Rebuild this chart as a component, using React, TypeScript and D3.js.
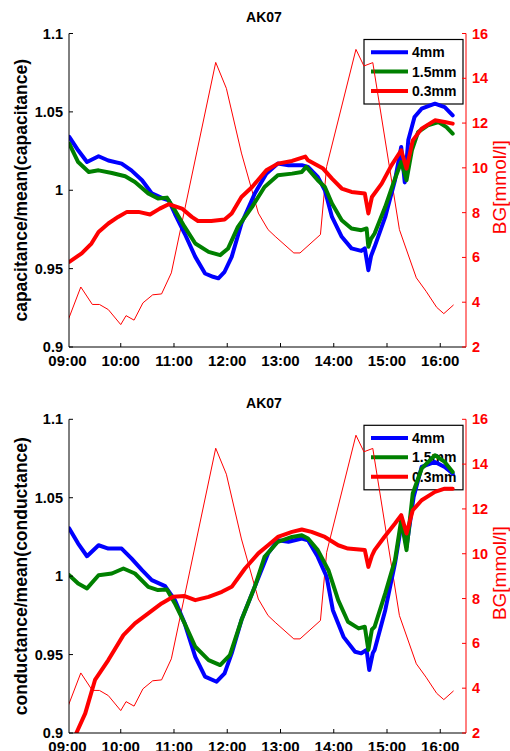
import React from 'react';
import * as d3 from 'd3';

// time axis: minutes after 09:00
const timeTicks = [0, 60, 120, 180, 240, 300, 360, 420];
const timeLabels = ['09:00', '10:00', '11:00', '12:00', '13:00', '14:00', '15:00', '16:00'];
const leftTicks = [0.9, 0.95, 1, 1.05, 1.1];
const leftTickLabels = ['0.9', '0.95', '1', '1.05', '1.1'];
const rightTicks = [2, 4, 6, 8, 10, 12, 14, 16];
const seriesNames = ['4mm', '1.5mm', '0.3mm'];
const seriesColors = ['#0000ff', '#008000', '#ff0000'];

// blood glucose (same in both panels)
const bgMin = [1, 15, 28, 36, 46, 60, 66, 75, 85, 96, 106, 117, 167, 179, 196, 215, 226, 234, 255, 262, 285, 292, 325, 334, 344, 374, 393, 404, 416, 424, 435];
const bgValue = [3.23, 4.68, 3.9, 3.9, 3.67, 3.0, 3.4, 3.2, 3.97, 4.33, 4.37, 5.31, 14.71, 13.55, 10.66, 7.98, 7.24, 6.94, 6.2, 6.2, 7.02, 10.06, 15.29, 14.55, 14.7, 7.24, 5.09, 4.49, 3.77, 3.49, 3.88];

// capacitance / mean(capacitance)
const capBlueMin = [2, 12, 22, 35, 46, 61, 72, 84, 95, 108, 114, 121, 132, 144, 155, 164, 170, 177, 185, 196, 211, 224, 237, 249, 264, 271, 282, 290, 298, 309, 320, 331, 335, 339, 342, 346, 358, 369, 376, 380, 384, 391, 399, 414, 425, 434];
const capBlueVal = [1.034, 1.0255, 1.018, 1.0217, 1.019, 1.017, 1.0127, 1.0064, 0.998, 0.9947, 0.9936, 0.985, 0.9724, 0.9575, 0.9469, 0.9448, 0.9438, 0.948, 0.9575, 0.9788, 0.9979, 1.0106, 1.017, 1.016, 1.016, 1.0149, 1.0085, 1.0, 0.983, 0.9703, 0.9629, 0.9613, 0.9629, 0.949, 0.958, 0.9639, 0.983, 1.0064, 1.0276, 1.005, 1.032, 1.0467, 1.052, 1.0552, 1.053, 1.0478];
const capGreenMin = [2, 12, 24, 35, 50, 65, 76, 91, 102, 112, 121, 132, 144, 159, 172, 181, 192, 208, 222, 237, 253, 264, 269, 282, 290, 298, 309, 320, 331, 337, 339, 342, 346, 358, 367, 376, 382, 388, 395, 406, 418, 427, 434];
const capGreenVal = [1.0297, 1.018, 1.0117, 1.0127, 1.011, 1.0089, 1.0053, 0.998, 0.9947, 0.9953, 0.9873, 0.9766, 0.966, 0.9607, 0.9586, 0.9629, 0.9766, 0.9894, 1.0021, 1.0096, 1.0106, 1.0117, 1.0149, 1.0064, 1.0021, 0.9915, 0.9809, 0.9756, 0.9745, 0.9756, 0.9639, 0.969, 0.9724, 0.9894, 1.0042, 1.018, 1.0064, 1.0255, 1.0371, 1.0414, 1.0435, 1.0403, 1.0361];
const capRedMin = [2, 16, 27, 35, 46, 57, 67, 80, 93, 104, 114, 129, 140, 147, 162, 177, 185, 196, 208, 224, 237, 253, 268, 271, 288, 298, 309, 320, 335, 339, 343, 354, 365, 376, 382, 389, 399, 414, 425, 434];
const capRedVal = [0.9543, 0.9597, 0.966, 0.9734, 0.9788, 0.983, 0.9862, 0.9862, 0.9845, 0.9883, 0.9911, 0.9883, 0.983, 0.9804, 0.9804, 0.9813, 0.9852, 0.9957, 1.0021, 1.0127, 1.017, 1.0187, 1.0215, 1.0191, 1.0138, 1.0074, 1.0011, 0.9989, 0.9979, 0.9852, 0.9957, 1.0042, 1.0159, 1.0255, 1.0138, 1.0318, 1.0393, 1.0446, 1.0435, 1.0425];

// conductance / mean(conductance)
const conBlueMin = [2, 12, 22, 35, 46, 61, 72, 84, 95, 110, 121, 132, 144, 155, 168, 177, 185, 196, 211, 226, 237, 249, 264, 271, 282, 292, 299, 311, 324, 331, 337, 340, 344, 346, 358, 369, 377, 382, 390, 399, 414, 425, 434];
const conBlueVal = [1.0304, 1.0208, 1.0127, 1.0197, 1.0176, 1.0176, 1.0113, 1.0038, 0.9975, 0.9936, 0.9847, 0.9699, 0.9486, 0.9359, 0.9327, 0.938, 0.9508, 0.972, 0.9932, 1.0145, 1.0229, 1.0219, 1.024, 1.0229, 1.0123, 0.9996, 0.9783, 0.9613, 0.9518, 0.9508, 0.9529, 0.9401, 0.951, 0.9529, 0.9783, 1.0081, 1.0357, 1.0187, 1.0505, 1.0696, 1.0728, 1.0696, 1.0654];
const conGreenMin = [2, 12, 22, 35, 50, 63, 76, 91, 102, 112, 121, 132, 144, 159, 172, 183, 196, 211, 222, 237, 253, 264, 271, 282, 294, 305, 316, 328, 335, 339, 343, 346, 358, 369, 376, 382, 389, 399, 414, 425, 434];
const conGreenVal = [1.0006, 0.9953, 0.9922, 1.0006, 1.0017, 1.0049, 1.0017, 0.9932, 0.9911, 0.9915, 0.9826, 0.9699, 0.955, 0.9465, 0.9433, 0.9497, 0.972, 0.9932, 1.0123, 1.0219, 1.025, 1.0261, 1.024, 1.0166, 1.0038, 0.9847, 0.9709, 0.9667, 0.9677, 0.9529, 0.966, 0.9677, 0.989, 1.0102, 1.0357, 1.0166, 1.0527, 1.0685, 1.0771, 1.0728, 1.0664];
const conRedMin = [2, 10, 20, 31, 46, 63, 76, 91, 106, 119, 132, 144, 159, 174, 185, 200, 215, 226, 237, 253, 264, 275, 290, 305, 316, 335, 339, 343, 346, 357, 369, 376, 382, 389, 399, 414, 425, 434];
const conRedVal = [0.887, 0.9, 0.9125, 0.9338, 0.9465, 0.9624, 0.9699, 0.9762, 0.9826, 0.9868, 0.9873, 0.9847, 0.9868, 0.99, 0.9932, 1.0049, 1.0145, 1.0197, 1.025, 1.0282, 1.0297, 1.0282, 1.025, 1.0197, 1.0176, 1.0166, 1.0059, 1.013, 1.0166, 1.025, 1.0336, 1.0389, 1.0272, 1.042, 1.0484, 1.0537, 1.0558, 1.0558];

const zip = (a: number[], b: number[]) => a.map((m, i) => [m, b[i]] as [number, number]);

const panels = [
  {
    id: 'cap',
    top: 33.5,
    bottom: 347,
    ylabel: 'capacitance/mean(capacitance)',
    series: [zip(capBlueMin, capBlueVal), zip(capGreenMin, capGreenVal), zip(capRedMin, capRedVal)],
  },
  {
    id: 'con',
    top: 419.3,
    bottom: 733,
    ylabel: 'conductance/mean(conductance)',
    series: [zip(conBlueMin, conBlueVal), zip(conGreenMin, conGreenVal), zip(conRedMin, conRedVal)],
  },
];

const FONT = '"Liberation Sans", Arial, Helvetica, sans-serif';
const left = 69;
const right = 466;

function Panel({ p }: { p: typeof panels[0] }) {
  const x = d3.scaleLinear().domain([1.7, 449]).range([left, right]);
  const y = d3.scaleLinear().domain([0.9, 1.1]).range([p.bottom, p.top]);
  const y2 = d3.scaleLinear().domain([2, 16]).range([p.bottom, p.top]);

  const line = d3.line<[number, number]>().x(d => x(d[0])).y(d => y(d[1]));
  const bgLine = d3.line<[number, number]>().x(d => x(d[0])).y(d => y2(d[1]));
  const mid = (p.top + p.bottom) / 2;

  const lgX = 364, lgY = p.top + 6, lgW = 99, lgH = 64.5;
  const rows = [12.7, 32, 51.5];

  return (
    <g>
      <defs>
        <clipPath id={`clip-${p.id}`}>
          <rect x={left} y={p.top} width={right - left} height={p.bottom - p.top} />
        </clipPath>
      </defs>
      <text x={264} y={p.top - 11.5} textAnchor="middle" fontSize={14} fontWeight="bold">AK07</text>

      {/* legend */}
      <rect x={lgX} y={lgY} width={lgW} height={lgH} fill="#fff" stroke="#000" strokeWidth={1.2} />
      {seriesNames.map((n, i) => (
        <g key={n}>
          <line x1={lgX + 7} x2={lgX + 44} y1={lgY + rows[i]} y2={lgY + rows[i]} stroke={seriesColors[i]} strokeWidth={4} />
          <text x={lgX + 48} y={lgY + rows[i] + 5} fontSize={14} fontWeight="bold">{n}</text>
        </g>
      ))}

      <g clipPath={`url(#clip-${p.id})`}>
        <path d={bgLine(zip(bgMin, bgValue)) || ''} fill="none" stroke="#ff0000" strokeWidth={1} />
        {p.series.map((s, i) => (
          <path key={i} d={line(s) || ''} fill="none" stroke={seriesColors[i]} strokeWidth={4} strokeLinejoin="round" strokeLinecap="round" />
        ))}
      </g>

      {/* left axis */}
      <line x1={left} x2={left} y1={p.top} y2={p.bottom} stroke="#000" strokeWidth={1} />
      {leftTicks.map((t, i) => (
        <g key={t}>
          <line x1={left} x2={left + 4} y1={y(t)} y2={y(t)} stroke="#000" />
          <text x={left - 6} y={y(t) + 5} textAnchor="end" fontSize={14.5} fontWeight="bold">{leftTickLabels[i]}</text>
        </g>
      ))}
      <text transform={`translate(${27},${mid}) rotate(-90)`} textAnchor="middle" fontSize={17.5} fontWeight="bold">{p.ylabel}</text>

      {/* bottom axis */}
      <line x1={left} x2={right} y1={p.bottom} y2={p.bottom} stroke="#000" strokeWidth={1} />
      {timeTicks.map((t, i) => (
        <g key={t}>
          {x(t) >= left && <line x1={x(t)} x2={x(t)} y1={p.bottom} y2={p.bottom - 4} stroke="#000" />}
          <text x={x(t)} y={p.bottom + 18.5} textAnchor="middle" fontSize={15} fontWeight="bold">{timeLabels[i]}</text>
        </g>
      ))}

      {/* right axis */}
      <line x1={right} x2={right} y1={p.top} y2={p.bottom} stroke="#ff0000" strokeWidth={1} />
      {rightTicks.map(t => (
        <g key={t}>
          <line x1={right} x2={right - 4} y1={y2(t)} y2={y2(t)} stroke="#ff0000" />
          <text x={right + 6} y={y2(t) + 5} fontSize={14.5} fontWeight="bold" fill="#ff0000">{t}</text>
        </g>
      ))}
      <text transform={`translate(${506},${mid - 3}) rotate(-90)`} textAnchor="middle" fontSize={19} fill="#ff0000">BG[mmol/l]</text>
    </g>
  );
}

export default function App() {
  return (
    <div style={{ position: 'absolute', left: 0, top: 0, width: 510, height: 751, background: '#fff' }}>
      <svg width={510} height={751} style={{ display: 'block', fontFamily: FONT }}>
        <rect width={510} height={751} fill="#fff" />
        {panels.map(p => <Panel key={p.id} p={p} />)}
      </svg>
    </div>
  );
}
